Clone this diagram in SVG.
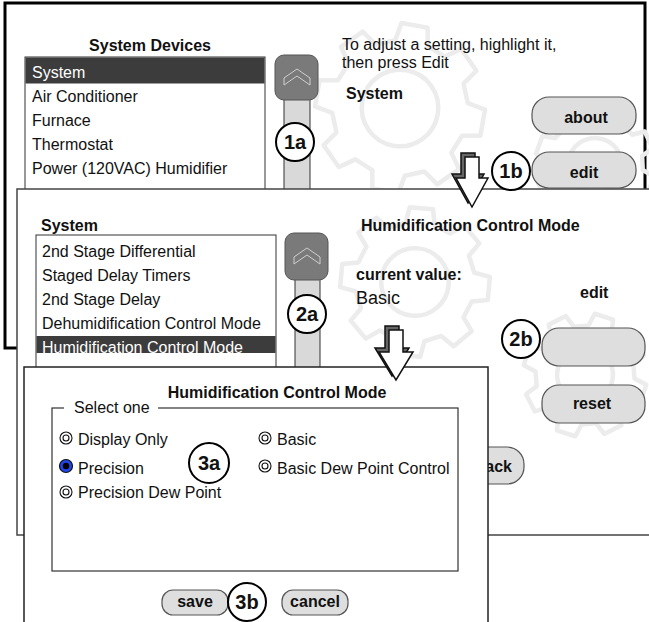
<svg xmlns="http://www.w3.org/2000/svg" xmlns:xlink="http://www.w3.org/1999/xlink" width="649" height="622" viewBox="0 0 649 622">
<style>
text{font-family:"Liberation Sans",Arial,sans-serif;fill:#111;font-size:16px}
.b{font-weight:bold}
.w{fill:#fff}
.mid{text-anchor:middle}
.panel{fill:#fff}
.gear{fill:none;stroke:#ececec;stroke-width:4.5;stroke-linejoin:round}
.list{fill:#fff;stroke:#333;stroke-width:1}
.sel{fill:#3c3c3c}
.sbtn{fill:#7a7a7a;stroke:#555;stroke-width:1}
.track{fill:#d9d9d9;stroke:#333;stroke-width:1}
.chev{fill:none;stroke:#cfcfcf;stroke-width:1}
.btn{fill:#dedede;stroke:#555;stroke-width:1.2}
.call{fill:#fff;stroke:#000;stroke-width:2}
.calltx{font-size:20px;font-weight:bold;text-anchor:middle}
.radio{fill:#fff;stroke:#111;stroke-width:1.1}
.shadow{fill:#666;stroke:#111;stroke-width:1.5;stroke-linejoin:miter}
.arrow{fill:#fff;stroke:#111;stroke-width:1.5;stroke-linejoin:miter}
</style>
<defs>
<g id="gearShape">
<path vector-effect="non-scaling-stroke" d="M77.6,-19.4 L98.8,-15.6 L98.8,15.6 L77.6,19.4 L68.6,41.2 L80.9,58.8 L58.8,80.9 L41.2,68.6 L19.4,77.6 L15.6,98.8 L-15.6,98.8 L-19.4,77.6 L-41.2,68.6 L-58.8,80.9 L-80.9,58.8 L-68.6,41.2 L-77.6,19.4 L-98.8,15.6 L-98.8,-15.6 L-77.6,-19.4 L-68.6,-41.2 L-80.9,-58.8 L-58.8,-80.9 L-41.2,-68.6 L-19.4,-77.6 L-15.6,-98.8 L15.6,-98.8 L19.4,-77.6 L41.2,-68.6 L58.8,-80.9 L80.9,-58.8 L68.6,-41.2 Z"/>
<circle vector-effect="non-scaling-stroke" r="45"/>
</g>
<path id="chevron" d="M0,17 L0,10 L13,1 L26,10 L26,17 L13,8 Z"/>
<g id="radioOff"><circle class="radio" r="6"/><circle class="radio" r="3"/></g>
</defs>

<g id="panel1">
<rect class="panel" x="5" y="3" width="640" height="345" stroke="#000" stroke-width="3"/>
<use xlink:href="#gearShape" class="gear" transform="translate(400,108) scale(0.85) rotate(10)"/>
<use xlink:href="#gearShape" class="gear" transform="translate(595,165) scale(0.6) rotate(20)"/>
<text class="b mid" x="150" y="51">System Devices</text>
<rect class="list" x="25" y="57" width="240" height="140"/>
<rect class="sel" x="25.5" y="57.5" width="239" height="26"/>
<text class="w" x="32" y="78">System</text>
<text x="32" y="102">Air Conditioner</text>
<text x="32" y="126">Furnace</text>
<text x="32" y="150">Thermostat</text>
<text x="32" y="174">Power (120VAC) Humidifier</text>
<rect class="track" x="284" y="95" width="26" height="100"/>
<rect class="sbtn" x="275" y="55" width="43" height="45" rx="9"/>
<use xlink:href="#chevron" class="chev" transform="translate(284,68)"/>
<text x="342" y="50">To adjust a setting, highlight it,</text>
<text x="342" y="68">then press Edit</text>
<text class="b" x="346" y="99">System</text>
<rect class="btn" x="532" y="97" width="104" height="37" rx="17"/>
<text class="b mid" x="586" y="123">about</text>
<rect class="btn" x="532" y="152" width="104" height="36" rx="17"/>
<text class="b mid" x="584" y="178">edit</text>
</g>

<g id="panel2">
<rect class="panel" x="17" y="189" width="650" height="346" stroke="#444" stroke-width="1.5"/>
<use xlink:href="#gearShape" class="gear" transform="translate(415,282) scale(0.75) rotate(5)"/>
<use xlink:href="#gearShape" class="gear" transform="translate(585,375) scale(0.62) rotate(18)"/>
<text class="b" x="41" y="231">System</text>
<rect class="list" x="36" y="235" width="240" height="140"/>
<text x="42" y="257">2nd Stage Differential</text>
<text x="42" y="281">Staged Delay Timers</text>
<text x="42" y="305">2nd Stage Delay</text>
<text x="42" y="329">Dehumidification Control Mode</text>
<rect class="sel" x="36.5" y="336" width="239" height="17"/>
<text class="w" x="42" y="353">Humidification Control Mode</text>
<rect class="track" x="295" y="272" width="25" height="100"/>
<rect class="sbtn" x="285" y="233" width="43" height="47" rx="9"/>
<use xlink:href="#chevron" class="chev" transform="translate(294,247)"/>
<text class="b" x="361" y="231">Humidification Control Mode</text>
<text class="b" x="356" y="280">current value:</text>
<text x="356" y="304" style="font-size:18px">Basic</text>
<text class="b" x="580" y="298">edit</text>
<rect class="btn" x="542" y="328" width="103" height="38" rx="17"/>
<rect class="btn" x="542" y="385" width="103" height="38" rx="17"/>
<text class="b mid" x="592" y="409">reset</text>
<rect class="btn" x="430" y="447" width="94" height="37" rx="17"/>
<text class="b" x="512" y="472" text-anchor="end">back</text>
</g>

<g id="panel3">
<rect class="panel" x="24" y="367" width="464" height="270" stroke="#222" stroke-width="1.5"/>
<text class="b mid" x="277" y="398">Humidification Control Mode</text>
<rect x="52" y="408" width="406" height="163" fill="none" stroke="#333" stroke-width="1.2"/>
<rect x="64" y="400" width="94" height="14" fill="#fff"/>
<text x="74" y="413">Select one</text>
<use xlink:href="#radioOff" transform="translate(66,438)"/>
<text x="78" y="445">Display Only</text>
<circle cx="66" cy="466" r="6.5" fill="#1f45e8" stroke="#111" stroke-width="1.2"/>
<circle cx="66" cy="466" r="3.2" fill="#000"/>
<text x="78" y="474">Precision</text>
<use xlink:href="#radioOff" transform="translate(66,492)"/>
<text x="78" y="498">Precision Dew Point</text>
<use xlink:href="#radioOff" transform="translate(265,438)"/>
<text x="277" y="445">Basic</text>
<use xlink:href="#radioOff" transform="translate(265,466)"/>
<text x="277" y="474">Basic Dew Point Control</text>
<rect class="btn" x="162" y="590" width="66" height="25" rx="11"/>
<text class="b mid" x="195" y="607">save</text>
<rect class="btn" x="282" y="590" width="66" height="25" rx="11"/>
<text class="b mid" x="315" y="607">cancel</text>
</g>

<g id="connectors">
<path class="shadow" d="M461,153 L475,153 L475,174 L484,174 L468,203 L452,174 L461,174 Z"/>
<path class="arrow" d="M465,157 L479,157 L479,178 L488,178 L472,207 L456,178 L465,178 Z"/>
<path class="shadow" d="M385,326 L399,326 L399,348 L409,348 L392,376 L375,348 L385,348 Z"/>
<path class="arrow" d="M389,330 L403,330 L403,352 L413,352 L396,380 L379,352 L389,352 Z"/>
</g>

<g id="callout-1a"><circle class="call" cx="295" cy="142" r="19"/><text class="calltx" x="295" y="149">1a</text></g>
<g id="callout-1b"><circle class="call" cx="511" cy="171" r="19"/><text class="calltx" x="511" y="178">1b</text></g>
<g id="callout-2a"><circle class="call" cx="307" cy="314" r="19"/><text class="calltx" x="307" y="321">2a</text></g>
<g id="callout-2b"><circle class="call" cx="521" cy="339" r="19"/><text class="calltx" x="521" y="346">2b</text></g>
<g id="callout-3a"><circle class="call" cx="209" cy="463" r="20"/><text class="calltx" x="209" y="470">3a</text></g>
<g id="callout-3b"><circle class="call" cx="247" cy="602" r="19"/><text class="calltx" x="247" y="609">3b</text></g>
</svg>
